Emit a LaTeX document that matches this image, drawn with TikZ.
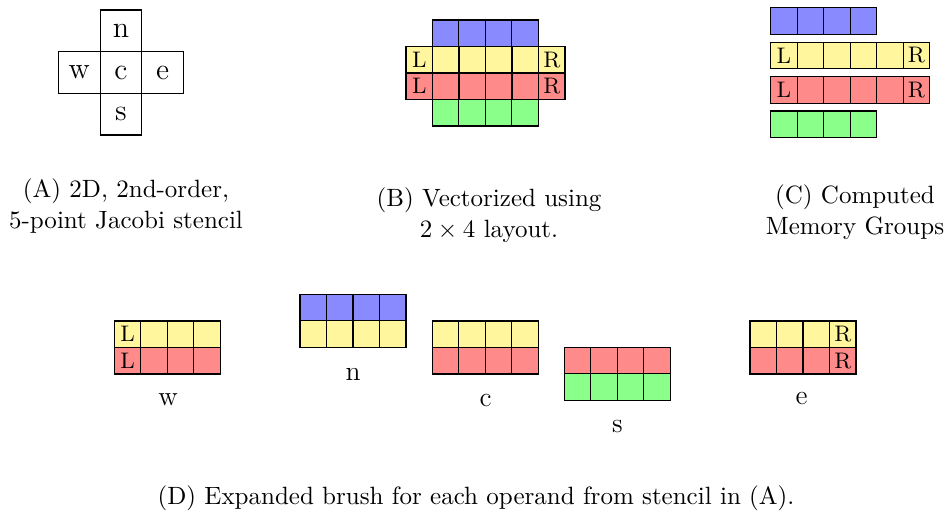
\documentclass[tikz,border=0pt]{standalone}
\usepackage{fontspec}
\definecolor{cblue}{RGB}{138,138,255}
\definecolor{cyel}{RGB}{255,246,158}
\definecolor{cred}{RGB}{255,138,138}
\definecolor{cgreen}{RGB}{138,255,138}
\tikzset{
  cell/.style={draw=black, line width=0.5pt, minimum width=10.6pt, minimum height=10.6pt,
    inner sep=0pt, outer sep=0pt, anchor=north west},
  scell/.style={draw=black, line width=0.5pt, minimum size=16.67pt, inner sep=0pt, outer sep=0pt,
    font=\fontsize{12}{14}\selectfont},
  edgeletter/.style={inner sep=0pt, font=\fontsize{9}{10}\selectfont},
  lbl/.style={inner sep=0pt, font=\fontsize{11}{13}\selectfont},
  captext/.style={align=center, inner sep=0pt, font=\fontsize{10}{12.4}\selectfont},
}
\newcommand\cellrow[5]{%
  \foreach \i in {1,...,#4}{%
    \node[cell, fill=#5] (#1-\i) at ({#2+(\i-1)*26.5},#3) {};
  }%
}
\begin{document}
\begin{tikzpicture}[x=0.4pt, y=-0.4pt]
\useasboundingbox (0,0) rectangle (946,516);
% (A) stencil
\node[scell] (sc) at (121,72.5) {c};
\node[scell, anchor=south] (sn) at (sc.north) {n};
\node[scell, anchor=east] (sw) at (sc.west) {w};
\node[scell, anchor=west] (se) at (sc.east) {e};
\node[scell, anchor=north] (ss) at (sc.south) {s};
\node[captext] (capA) at (126,206.5) {(A) 2D, 2nd-order,\\5-point Jacobi stencil};
% (B)
\cellrow{bb}{432.3}{20}{4}{cblue}
\cellrow{by}{406}{46.5}{6}{cyel}
\cellrow{br}{406}{73}{6}{cred}
\cellrow{bg}{432.3}{99.5}{4}{cgreen}
\node[edgeletter] (bL1) at (by-1) {L};
\node[edgeletter] (bR1) at (by-6) {R};
\node[edgeletter] (bL2) at (br-1) {L};
\node[edgeletter] (bR2) at (br-6) {R};
\node[captext] (capB) at (489,215) {(B) Vectorized using\\$2\times 4$ layout.};
% (C)
\cellrow{cb}{770.7}{7.7}{4}{cblue}
\cellrow{cy}{770.7}{42.3}{6}{cyel}
\cellrow{cr}{770.7}{76.7}{6}{cred}
\cellrow{cg}{770.7}{111}{4}{cgreen}
\node[edgeletter] (cL1) at (cy-1) {L};
\node[edgeletter] (cR1) at (cy-6) {R};
\node[edgeletter] (cL2) at (cr-1) {L};
\node[edgeletter] (cR2) at (cr-6) {R};
\node[captext] (capC) at (855,212.5) {(C) Computed\\Memory Groups};
% (D) w
\cellrow{wy}{114.3}{321}{4}{cyel}
\cellrow{wr}{114.3}{347.5}{4}{cred}
\node[edgeletter] (wL1) at (wy-1) {L};
\node[edgeletter] (wL2) at (wr-1) {L};
\node[lbl] (lw) at (168,400) {w};
% n
\cellrow{nb}{300}{294.3}{4}{cblue}
\cellrow{ny}{300}{320.8}{4}{cyel}
\node[lbl] (ln) at (353,374) {n};
% c
\cellrow{xy}{432.3}{321}{4}{cyel}
\cellrow{xr}{432.3}{347.5}{4}{cred}
\node[lbl] (lc) at (485.7,400) {c};
% s
\cellrow{sr}{564.3}{347.3}{4}{cred}
\cellrow{sg}{564.3}{373.8}{4}{cgreen}
\node[lbl] (ls) at (617.3,426.7) {s};
% e
\cellrow{ey}{750}{321}{4}{cyel}
\cellrow{er}{750}{347.5}{4}{cred}
\node[edgeletter] (eR1) at (ey-4) {R};
\node[edgeletter] (eR2) at (er-4) {R};
\node[lbl] (le) at (801.7,398) {e};
\node[captext] (capD) at (476,498) {(D) Expanded brush for each operand from stencil in (A).};
\end{tikzpicture}
\end{document}
